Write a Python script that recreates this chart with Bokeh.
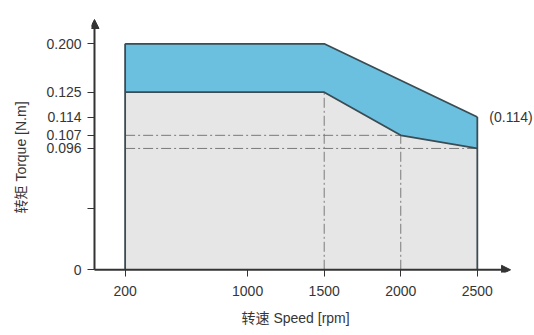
import numpy as np
from bokeh.plotting import figure
from bokeh.models import Range1d, FixedTicker, Arrow, NormalHead, Label, Title
from bokeh.embed import file_html
from bokeh.resources import INLINE

# ---- data ----
speed_upper = [200, 1500, 2500]
torque_upper = [0.200, 0.200, 0.114]
speed_lower = [200, 1500, 2000, 2500]
torque_lower = [0.125, 0.125, 0.107, 0.096]

x_ticks = [200, 1000, 1500, 2000, 2500]
y_tick_values = [0, 0.05, 0.096, 0.107, 0.114, 0.125, 0.200]
y_tick_labels = ["0", "", "0.096", "0.107", "0.114", "0.125", "0.200"]
peak_text = "(0.114)"
x_title = "转速 Speed [rpm]"
y_title = "转矩 Torque [N.m]"

# schematic (non-linear) torque axis: relative height of each tick value
y_axis_pos = [0, 0.270, 0.537, 0.595, 0.676, 0.786, 1.0]


def ty(v):
    return [float(a) for a in np.atleast_1d(np.interp(v, y_tick_values, y_axis_pos))]


# ---- layout ----
W, H = 534, 335
FL, FR, FT, FB = 90, 534, 10, 272        # frame edges (px)
OX, OY = 93, 269.3                       # axis origin (px)
PX_X = 0.15348                           # px per rpm
PX_Y = 226.0                             # px per schematic unit
X_TIP = (510 - OX) / PX_X
Y_TIP = (OY - 19) / PX_Y

FONT = "Liberation Sans, Noto Sans CJK SC"
TXT = "#363636"
AX = "#333333"
EDGE = "#3a4c54"
BLUE = "#6bbfdf"
GRAY = "#e6e6e6"
GUIDE = "#7a7a7a"

p = figure(width=W, height=H, output_backend="svg", toolbar_location=None,
           x_range=Range1d(-(OX - FL) / PX_X, (FR - OX) / PX_X),
           y_range=Range1d(-(FB - OY) / PX_Y, (OY - FT) / PX_Y),
           min_border_left=FL, min_border_right=W - FR, min_border_top=FT,
           min_border_bottom=H - FB)
p.outline_line_color = None
p.grid.visible = False
p.background_fill_color = "white"

# gray region (continuous torque)
gx = [speed_lower[0]] + speed_lower + [speed_lower[-1]]
gy = [0] + torque_lower + [0]
p.patch(gx, ty(gy), fill_color=GRAY, line_color=None)
# blue region (peak torque)
bx = speed_upper + speed_lower[::-1]
by = torque_upper + torque_lower[::-1]
p.patch(bx, ty(by), fill_color=BLUE, line_color=None)

# dash-dot guides
hx1 = speed_lower[2:]
hy = torque_lower[2:]
p.segment(x0=[speed_lower[0]] * len(hx1), y0=ty(hy), x1=hx1, y1=ty(hy),
          line_color=GUIDE, line_width=1, line_dash="10 3 2 3")
vx = speed_lower[1:3]
vy = torque_lower[1:3]
p.segment(x0=vx, y0=[0] * len(vx), x1=vx, y1=ty(vy),
          line_color=GUIDE, line_width=1, line_dash="10 3 2 3")

# outlines
p.line(speed_upper, ty(torque_upper), line_color=EDGE, line_width=1.8)
p.line(speed_lower, ty(torque_lower), line_color=EDGE, line_width=1.8)
p.line([speed_upper[0]] * 2, ty([0, torque_upper[0]]), line_color=EDGE, line_width=1.8)
p.line([speed_upper[-1]] * 2, ty([0, torque_upper[-1]]), line_color=EDGE, line_width=1.8)

# peak label
p.add_layout(Label(x=speed_upper[-1], y=ty(torque_upper[-1])[0], text=peak_text,
                   x_offset=12, text_baseline="middle", text_align="left",
                   text_font=FONT, text_font_size="14px", text_color=TXT))

# axis arrows
for xe, ye in [(X_TIP, 0), (0, Y_TIP)]:
    p.add_layout(Arrow(x_start=0, y_start=0, x_end=xe, y_end=ye,
                       line_color=AX, line_width=2,
                       end=NormalHead(size=9, fill_color=AX, line_color=AX, line_width=1)))

# axes
for ax in (p.xaxis[0], p.yaxis[0]):
    ax.axis_line_color = None
    ax.major_tick_line_color = AX
    ax.major_tick_line_width = 1
    ax.major_tick_out = 4
    ax.major_tick_in = 3
    ax.minor_tick_line_color = None
    ax.major_label_text_font = FONT
    ax.major_label_text_font_size = "14px"
    ax.major_label_text_color = TXT

xa = p.xaxis[0]
xa.ticker = FixedTicker(ticks=x_ticks)
xa.major_label_standoff = 9

ya = p.yaxis[0]
ypos = ty(y_tick_values)
ya.ticker = FixedTicker(ticks=ypos)
ya.major_label_overrides = {pos: lab for pos, lab in zip(ypos, y_tick_labels)}
ya.major_label_standoff = 6

# axis titles
p.add_layout(Title(text=x_title, align="left", offset=150, standoff=18,
                   vertical_align="bottom",
                   text_font=FONT, text_font_size="14px", text_font_style="normal",
                   text_color=TXT), "below")
p.add_layout(Title(text=y_title, align="left", offset=59, standoff=25,
                   vertical_align="top",
                   text_font=FONT, text_font_size="14px", text_font_style="normal",
                   text_color=TXT), "left")

open("out.html", "w").write(file_html(p, INLINE))
